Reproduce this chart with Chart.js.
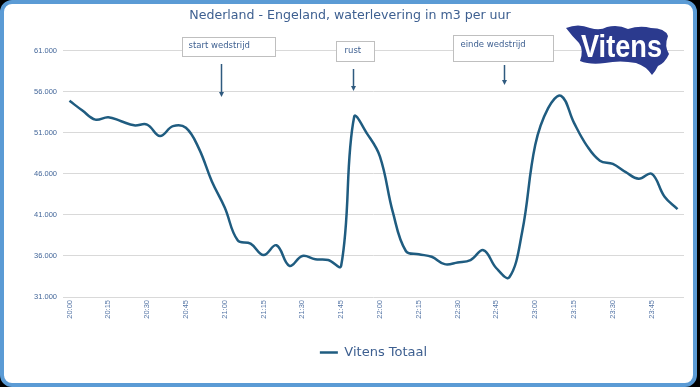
<!DOCTYPE html>
<html lang="nl">
<head>
  <meta charset="UTF-8">
  <title>Nederland - Engeland, waterlevering</title>
  <script src="https://cdn.jsdelivr.net/npm/chart.js"></script>
  <style>
    html, body { margin: 0; padding: 0; background: #000; overflow: hidden; }
    #frame { position: absolute; left: 0; top: 0; width: 689px; height: 379px; border: 4px solid #5b9bd5; border-radius: 12px; background: #fff; }
    #chart { position: absolute; left: 0; top: 0; }
  </style>
</head>
<body>
  <div id="frame"></div>
  <canvas id="chart" width="700" height="387"></canvas>

  <script>
    // tijdstippen, per 5 minuten
    const times = [
      '20:00','20:05','20:10','20:15','20:20','20:25','20:30','20:35','20:40','20:45','20:50','20:55',
      '21:00','21:05','21:10','21:15','21:20','21:25','21:30','21:35','21:40','21:45','21:50','21:55',
      '22:00','22:05','22:10','22:15','22:20','22:25','22:30','22:35','22:40','22:45','22:50','22:55',
      '23:00','23:05','23:10','23:15','23:20','23:25','23:30','23:35','23:40','23:45','23:50','23:55'
    ];

    // waterlevering Vitens totaal (m3 per uur)
    const levering = [
      54900, 53700, 52600, 52900, 52400, 51900, 52000, 50600, 51800, 51600, 49100, 45100,
      41900, 37900, 37500, 36100, 37300, 34800, 36000, 35600, 35500, 34800, 52900, 50900,
      48100, 41300, 36600, 36200, 35900, 35000, 35200, 35500, 36700, 34500, 33400, 39000,
      49500, 54000, 55500, 52200, 49400, 47600, 47200, 46200, 45400, 46000, 43200, 41700
    ];

    const yTicks = [31000, 36000, 41000, 46000, 51000, 56000, 61000];

    // opmerkingen boven de grafiek (positie op de tijdas)
    const notes = [
      { text: 'start wedstrijd', at: 11.7 },
      { text: 'rust', at: 21.95 },
      { text: 'einde wedstrijd', at: 33.55 }
    ];
    const noteLayout = [
      { dx: -39, y: 37, w: 93, h: 19, tx: 6, ty: 9, a0: 64, a1: 97 },
      { dx: -17, y: 41, w: 38, h: 20, tx: 8, ty: 10, a0: 69, a1: 91 },
      { dx: -51, y: 35, w: 100, h: 26, tx: 7, ty: 9.5, a0: 65, a1: 85 }
    ];

    const textBlue = '#3d5f90';
    const lineBlue = '#1f5c80';

    function fmt(v) {
      return String(v).replace(/\B(?=(\d{3})+(?!\d))/g, '.');
    }

    const extras = {
      id: 'extras',
      afterDraw(chart) {
        const c = chart.ctx;
        const xs = chart.scales.x;
        c.save();

        // tekstvakjes + pijlen
        notes.forEach((n, i) => {
          const L = noteLayout[i];
          const ax = Math.round(xs.getPixelForValue(n.at)) + 0.5;
          c.fillStyle = '#fff';
          c.strokeStyle = '#bfbfbf';
          c.lineWidth = 1;
          c.fillRect(ax + L.dx, L.y, L.w, L.h);
          c.strokeRect(ax + L.dx, L.y + 0.5, L.w, L.h);
          c.fillStyle = textBlue;
          c.font = '8.5px "DejaVu Sans"';
          c.textBaseline = 'middle';
          c.fillText(n.text, ax + L.dx + L.tx, L.y + L.ty);

          c.strokeStyle = '#2f5a7f';
          c.lineWidth = 1.5;
          c.beginPath();
          c.moveTo(ax, L.a0);
          c.lineTo(ax, L.a1 - 4);
          c.stroke();
          c.fillStyle = '#2f5a7f';
          c.beginPath();
          c.moveTo(ax - 2.5, L.a1 - 5);
          c.lineTo(ax + 2.5, L.a1 - 5);
          c.lineTo(ax, L.a1);
          c.closePath();
          c.fill();
        });

        // Vitens logo
        c.fillStyle = '#2b3a8e';
        c.beginPath();
        c.moveTo(566, 28);
        c.quadraticCurveTo(578, 23, 590, 28);
        c.quadraticCurveTo(600, 31, 607, 27);
        c.quadraticCurveTo(618, 24, 628, 29);
        c.quadraticCurveTo(640, 25, 651, 28);
        c.quadraticCurveTo(665, 28, 668, 36);
        c.quadraticCurveTo(664, 46, 669, 54);
        c.quadraticCurveTo(665, 63, 658, 66);
        c.quadraticCurveTo(655, 72, 652, 75);
        c.quadraticCurveTo(646, 66, 636, 63);
        c.quadraticCurveTo(620, 60, 605, 63);
        c.quadraticCurveTo(590, 65, 580, 61);
        c.quadraticCurveTo(584, 50, 579, 43);
        c.quadraticCurveTo(572, 36, 566, 28);
        c.closePath();
        c.fill();

        c.font = 'bold 32px "Liberation Sans"';
        c.textBaseline = 'alphabetic';
        const w = c.measureText('Vitens').width;
        c.translate(581, 57);
        c.scale(81 / w, 1);
        c.fillStyle = '#fff';
        c.fillText('Vitens', 0, 0);
        c.restore();
      }
    };

    new Chart(document.getElementById('chart'), {
      type: 'line',
      data: {
        labels: times,
        datasets: [{
          label: 'Vitens Totaal',
          data: levering,
          borderColor: lineBlue,
          backgroundColor: lineBlue,
          borderWidth: 2.5,
          pointRadius: 0,
          tension: 0.4,
          fill: false
        }]
      },
      options: {
        responsive: false,
        animation: false,
        layout: { padding: { left: 16, right: 16, top: 0, bottom: 18 } },
        plugins: {
          title: {
            display: true,
            text: 'Nederland - Engeland, waterlevering in m3 per uur',
            color: textBlue,
            font: { family: 'DejaVu Sans', size: 12.6, weight: 'normal' },
            padding: { top: 8.5, bottom: 27 }
          },
          legend: {
            position: 'bottom',
            fullSize: false,
            labels: {
              usePointStyle: true,
              pointStyle: 'line',
              pointStyleWidth: 18,
              color: textBlue,
              font: { family: 'DejaVu Sans', size: 13 },
              padding: 10
            }
          },
          tooltip: { enabled: false }
        },
        scales: {
          x: {
            offset: true,
            grid: { display: false, drawTicks: false },
            border: { display: false },
            ticks: {
              autoSkip: false,
              minRotation: 90,
              maxRotation: 90,
              padding: 3,
              color: '#5676a6',
              font: { family: 'Liberation Sans', size: 7.5 },
              callback: (v, i) => (i % 3 === 0 ? times[i] : null)
            },
            afterFit: s => { s.height = 39; }
          },
          y: {
            min: yTicks[0],
            max: yTicks[yTicks.length - 1],
            afterBuildTicks: s => { s.ticks = yTicks.map(v => ({ value: v })); },
            ticks: {
              padding: 6,
              color: '#44679a',
              font: { family: 'Liberation Sans', size: 7.5 },
              callback: v => fmt(v)
            },
            grid: { color: '#d9d9d9', drawTicks: false },
            border: { display: false },
            afterFit: s => { s.width = 47; }
          }
        }
      },
      plugins: [extras]
    });
  </script>
</body>
</html>
